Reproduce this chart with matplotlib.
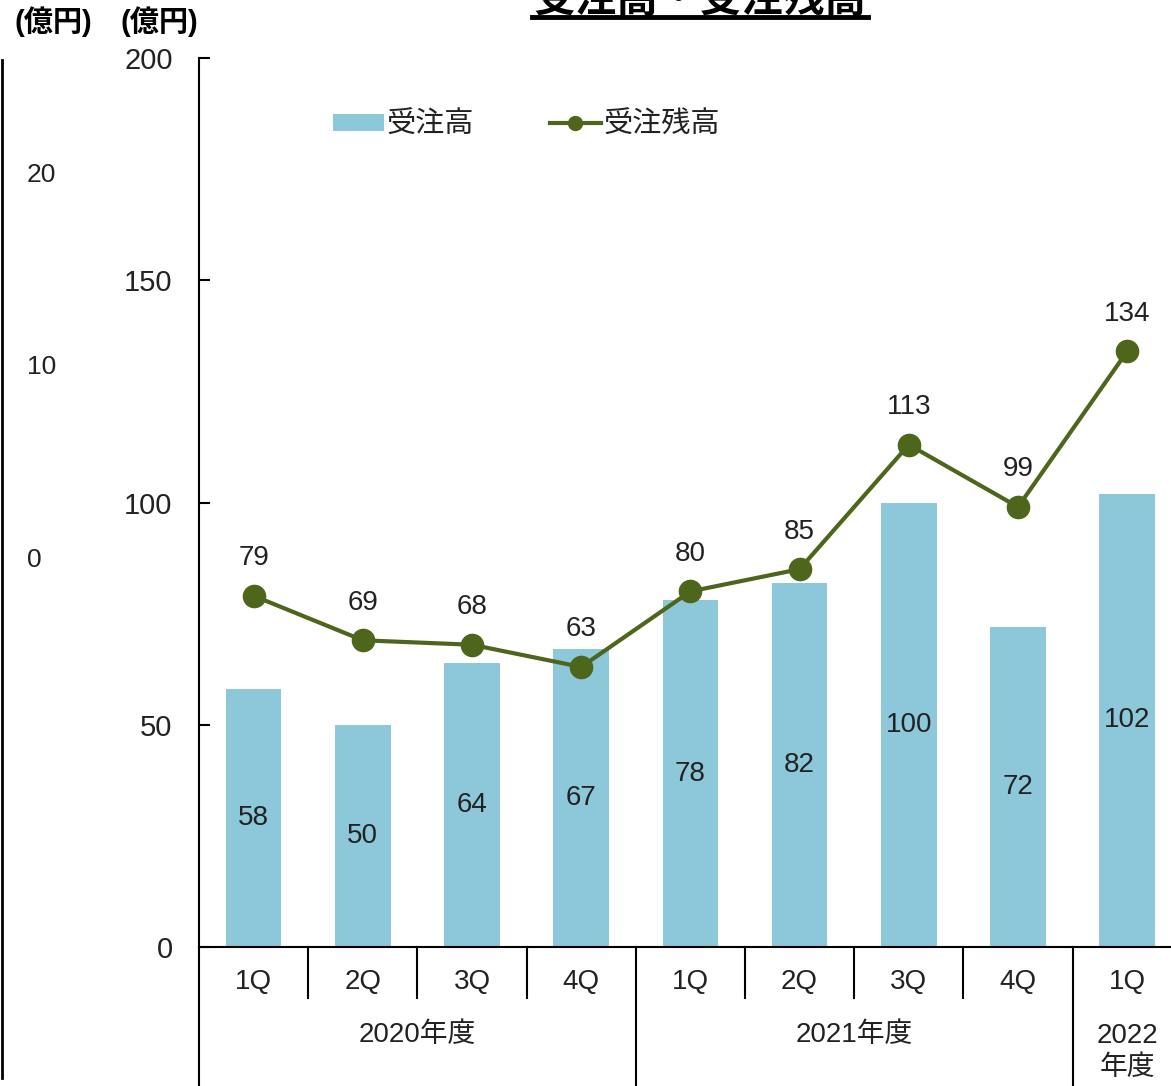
import matplotlib
matplotlib.use('Agg')
import matplotlib.pyplot as plt
from matplotlib.lines import Line2D
from matplotlib.patches import Patch
import matplotlib.transforms as mtransforms

plt.rcParams['font.family'] = ['Liberation Sans', 'Noto Sans CJK JP']

# データ
quarters = ['1Q', '2Q', '3Q', '4Q', '1Q', '2Q', '3Q', '4Q', '1Q']
years = ['2020年度', '2021年度', '2022\n年度']
year_span = [4, 4, 1]
orders = [58, 50, 64, 67, 78, 82, 100, 72, 102]       # 受注高
backlog = [79, 69, 68, 63, 80, 85, 113, 99, 134]      # 受注残高
y_ticks = [0, 50, 100, 150, 200]
left_ticks = [20, 10, 0]   # 左側で切れている別グラフの目盛

bar_color = '#8DC8DA'
line_color = '#4E661C'
text_color = '#222222'

W, H = 1171, 1086
fig = plt.figure(figsize=(W / 100, H / 100), dpi=100)
ax = fig.add_axes([199 / W, 1 - 947 / H, 982.8 / W, 889 / H])

x = list(range(len(quarters)))
ax.bar(x, orders, width=0.51, color=bar_color, zorder=2)
ax.plot(x, backlog, color=line_color, lw=3, marker='o', ms=16,
        markerfacecolor=line_color, markeredgecolor=line_color, zorder=3)

for i, v in enumerate(orders):
    ax.text(i, v / 2, str(v), ha='center', va='center', fontsize=20, color=text_color, zorder=4)
for i, v in enumerate(backlog):
    ax.annotate(str(v), (i, v), xytext=(0, 27), textcoords='offset points',
                ha='center', va='center', fontsize=20, color=text_color)

ax.set_xlim(-0.5, len(quarters) - 0.5)
ax.set_ylim(0, 200)
ax.set_yticks(y_ticks)
ax.tick_params(axis='y', direction='in', length=8, width=1.5, pad=19,
               labelsize=21, labelcolor=text_color)
ax.set_xticks([])
for s in ['top', 'right']:
    ax.spines[s].set_visible(False)
ax.spines['left'].set_linewidth(1.5)
ax.spines['bottom'].set_linewidth(1.5)

# 下の区分け（四半期・年度）
trans = mtransforms.blended_transform_factory(ax.transData, ax.transAxes)
short = -(998 - 947) / 889
full = -(1090 - 947) / 889
pos = -0.5
bounds = [pos]
for n in year_span:
    pos += n
    bounds.append(pos)
for b in bounds[:-1]:
    ax.plot([b, b], [0, full], color='black', lw=1.5, transform=trans, clip_on=False)
for i in range(len(quarters) - 1):
    b = i + 0.5
    if b not in bounds:
        ax.plot([b, b], [0, short], color='black', lw=1.5, transform=trans, clip_on=False)
for i, q in enumerate(quarters):
    ax.text(i, -(982 - 947) / 889, q, transform=trans, ha='center', va='center',
            fontsize=20, color=text_color)
for k, yl in enumerate(years):
    c = (bounds[k] + bounds[k + 1]) / 2
    if '\n' in yl:
        ax.text(c, -(1052 - 947) / 889, yl, transform=trans, ha='center', va='center',
                fontsize=20, color=text_color, linespacing=1.3)
    else:
        ax.text(c, -(1035 - 947) / 889, yl, transform=trans, ha='center', va='center',
                fontsize=20, color=text_color)

# 凡例
handles = [Patch(facecolor=bar_color, edgecolor='none'),
           Line2D([], [], color=line_color, lw=3, marker='o', ms=10)]
fig.legend(handles, ['受注高', '受注残高'], ncol=2, frameon=False, fontsize=21,
           loc='center left', bbox_to_anchor=(318 / W, 1 - 125 / H),
           borderpad=0, handlelength=1.75, handleheight=0.55, handletextpad=0.1,
           columnspacing=2.6, labelcolor=text_color)

# タイトル（上部で切れている）
fig.text(700 / W, 1 - 1 / H, '受注高・受注残高', ha='center', va='center',
         fontsize=30, fontweight='bold', color='black')
fig.add_artist(Line2D([532 / W, 868 / W], [1 - 17 / H, 1 - 17 / H], color='black', lw=3.5))

# 単位
fig.text(15 / W, 1 - 22 / H, '(億円)', ha='left', va='center', fontsize=21, fontweight='bold')
fig.text(120 / W, 1 - 22 / H, '(億円)', ha='left', va='center', fontsize=21, fontweight='bold')

# 左端の別軸の断片
fig.add_artist(Line2D([2 / W, 2 / W], [1 - 60 / H, 1 - 1078 / H], color='black', lw=2))
for v, yy in zip(left_ticks, [175, 367, 560]):
    fig.text(27 / W, 1 - yy / H, str(v), ha='left', va='center', fontsize=19, color=text_color)

fig.savefig('out.png', dpi=100)
